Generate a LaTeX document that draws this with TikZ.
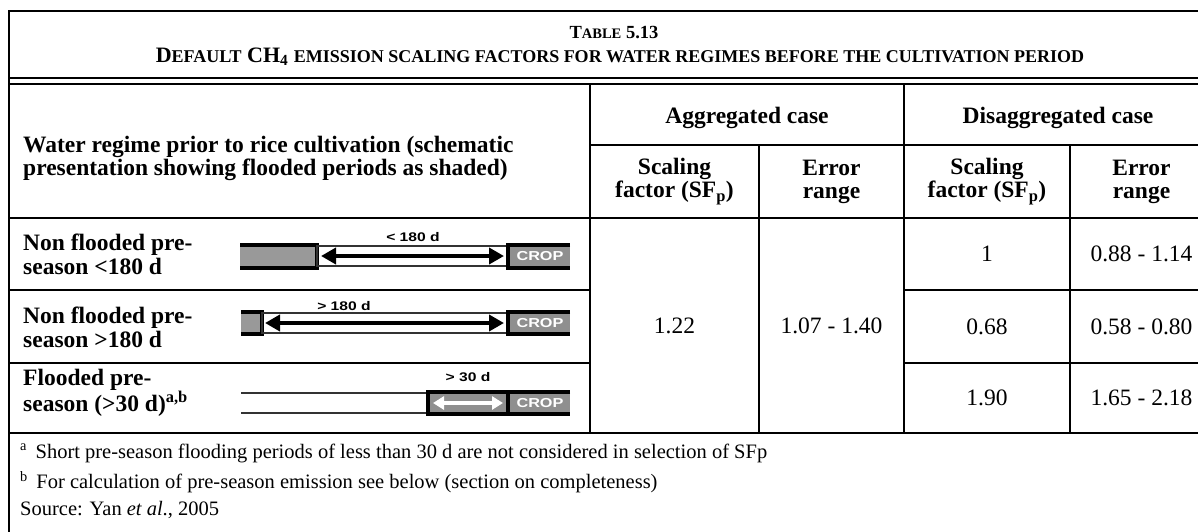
\documentclass[tikz,border=0pt]{standalone}
\usepackage{fontspec}
\setmainfont{Liberation Serif}
\newfontfamily\labelfont[FakeStretch=1.25]{Liberation Sans}
\usetikzlibrary{arrows.meta}
\definecolor{barfill}{gray}{0.6}
\definecolor{cropfill}{gray}{0.56}
\newcommand\smcapA[1]{{\fontsize{14.5}{17}\selectfont #1}}
\newcommand\smcapB[1]{{\fontsize{18}{21}\selectfont #1}}
\begin{document}
\begin{tikzpicture}[x=1pt,y=-1pt,
  rule/.style={line width=2pt},
  outer/.style={line width=2.8pt},
  heavy/.style={line width=3.6pt},
  thinframe/.style={line width=1.1pt, draw=black!80},
  hd/.style={font=\fontsize{23.5}{23}\selectfont\bfseries, align=center, inner sep=0pt},
  cell/.style={font=\fontsize{23.5}{23}\selectfont, inner sep=0pt},
  rowlab/.style={font=\fontsize{23.5}{24.5}\selectfont\bfseries, align=left, anchor=west, inner sep=0pt},
  note/.style={font=\fontsize{20.5}{23}\selectfont, anchor=west, inner sep=0pt},
  dlabel/.style={font=\labelfont\bfseries\fontsize{12.5}{15}\selectfont, inner sep=0pt},
  croptext/.style={font=\labelfont\bfseries\fontsize{13}{15}\selectfont, text=white, inner sep=0pt},
  period/.style={line width=4.4pt, {Triangle[length=15pt,width=16pt]}-{Triangle[length=15pt,width=16pt]}},
  floodarrow/.style={line width=3.6pt, white, {Triangle[length=11pt,width=13pt]}-{Triangle[length=11pt,width=13pt]}},
]
\useasboundingbox (0,0) rectangle (1198,531);
\clip (0,0) rectangle (1198,531);
\fill[white] (0,0) rectangle (1198,531);

% ---------- caption box ----------
\draw[outer] (1230,11) -- (9,11) -- (9,540);
\draw[rule] (9,77.5) -- (1230,77.5);
\draw[rule] (9,84) -- (1230,84);
\node[inner sep=0pt, font=\bfseries] (title) at (614,33)
  {\fontsize{18.5}{22}\selectfont T\smcapA{ABLE} 5.13};
\node[inner sep=0pt, font=\bfseries] (subtitle) at (620,57)
  {\fontsize{22}{26}\selectfont D\smcapB{EFAULT} CH\textsubscript{4} \smcapB{EMISSION SCALING FACTORS FOR WATER REGIMES BEFORE THE CULTIVATION PERIOD}};

% ---------- grid ----------
\draw[rule] (590,84) -- (590,433);
\draw[rule] (904,84) -- (904,433);
\draw[rule] (759,145) -- (759,433);
\draw[rule] (1070,145) -- (1070,433);
\draw[rule] (590,145) -- (1230,145);
\draw[rule] (9,218) -- (1230,218);
\draw[rule] (9,290) -- (590,290);
\draw[rule] (904,290) -- (1230,290);
\draw[rule] (9,363) -- (590,363);
\draw[rule] (904,363) -- (1230,363);
\draw[rule] (9,433) -- (1230,433);

% ---------- headers ----------
\node[rowlab, font=\fontsize{23.5}{23}\selectfont\bfseries] (hwater) at (23,158.5)
  {Water regime prior to rice cultivation (schematic\\presentation showing flooded periods as shaded)};
\node[hd] (hagg) at (747,118) {Aggregated case};
\node[hd] (hdis) at (1058,118) {Disaggregated case};
\node[hd] (hsf1) at (674.5,181.5) {Scaling\\factor (SF\textsubscript{p})};
\node[hd] (her1) at (831.5,181.5) {Error\\range};
\node[hd] (hsf2) at (987,181.5) {Scaling\\factor (SF\textsubscript{p})};
\node[hd] (her2) at (1141.5,181.5) {Error\\range};

% ---------- row labels ----------
\node[rowlab] (r1) at (23,254.5) {Non flooded pre-\\season <180 d};
\node[rowlab] (r2) at (23,327.5) {Non flooded pre-\\season >180 d};
\node[rowlab] (r3) at (23,393) {Flooded pre-\\season (>30 d)\textsuperscript{a,b}};

% ---------- values ----------
\node[cell] (agg-sf) at (674.5,326) {1.22};
\node[cell] (agg-er) at (831.5,326) {1.07 - 1.40};
\node[cell] (d1-sf) at (987,254) {1};
\node[cell] (d1-er) at (1141.5,254) {0.88 - 1.14};
\node[cell] (d2-sf) at (987,326.5) {0.68};
\node[cell] (d2-er) at (1141.5,326.5) {0.58 - 0.80};
\node[cell] (d3-sf) at (987,398) {1.90};
\node[cell] (d3-er) at (1141.5,398) {1.65 - 2.18};

% ---------- schematic: non flooded < 180 d ----------
\fill[barfill] (240,245) rectangle (317,268);
\draw[heavy] (240,245) -- (317,245) -- (317,268) -- (240,268);
\draw[thinframe] (317,246) rectangle (508,266);
\fill[cropfill] (508,245) rectangle (570,268);
\draw[heavy] (570,245) -- (508,245) -- (508,268) -- (570,268);
\node[croptext] (crop1) at (540,256.5) {CROP};
\coordinate (a1s) at (321,256);
\coordinate (a1e) at (504,256);
\draw[period] (a1s) -- (a1e);
\node[dlabel] (lab1) at (413,237) {< 180 d};

% ---------- schematic: non flooded > 180 d ----------
\fill[barfill] (241,312) rectangle (262,334);
\draw[heavy] (241,312) -- (262,312) -- (262,334) -- (241,334);
\draw[thinframe] (262,313) rectangle (508,333);
\fill[cropfill] (508,312) rectangle (570,334);
\draw[heavy] (570,312) -- (508,312) -- (508,334) -- (570,334);
\node[croptext] (crop2) at (540,323.5) {CROP};
\coordinate (a2s) at (265,323);
\coordinate (a2e) at (504,323);
\draw[period] (a2s) -- (a2e);
\node[dlabel] (lab2) at (344,306) {> 180 d};

% ---------- schematic: flooded > 30 d ----------
\draw[thinframe] (241,393) -- (428,393) -- (428,413) -- (241,413);
\fill[cropfill] (428,392) rectangle (570,414);
\draw[heavy] (570,392) -- (428,392) -- (428,414) -- (570,414);
\draw[heavy] (508,392) -- (508,414);
\node[croptext] (crop3) at (540,403.5) {CROP};
\coordinate (a3s) at (433,403);
\coordinate (a3e) at (503,403);
\draw[floodarrow] (a3s) -- (a3e);
\node[dlabel] (lab3) at (468,377) {> 30 d};

% ---------- notes ----------
\node[note] (n1) at (20,453)
  {\textsuperscript{a}\, Short pre-season flooding periods of less than 30 d are not considered in selection of SFp};
\node[note] (n2) at (20,482)
  {\textsuperscript{b}\, For calculation of pre-season emission see below (section on completeness)};
\node[note] (n3) at (20,510) {Source: Yan \textit{et al}., 2005};
\end{tikzpicture}
\end{document}
